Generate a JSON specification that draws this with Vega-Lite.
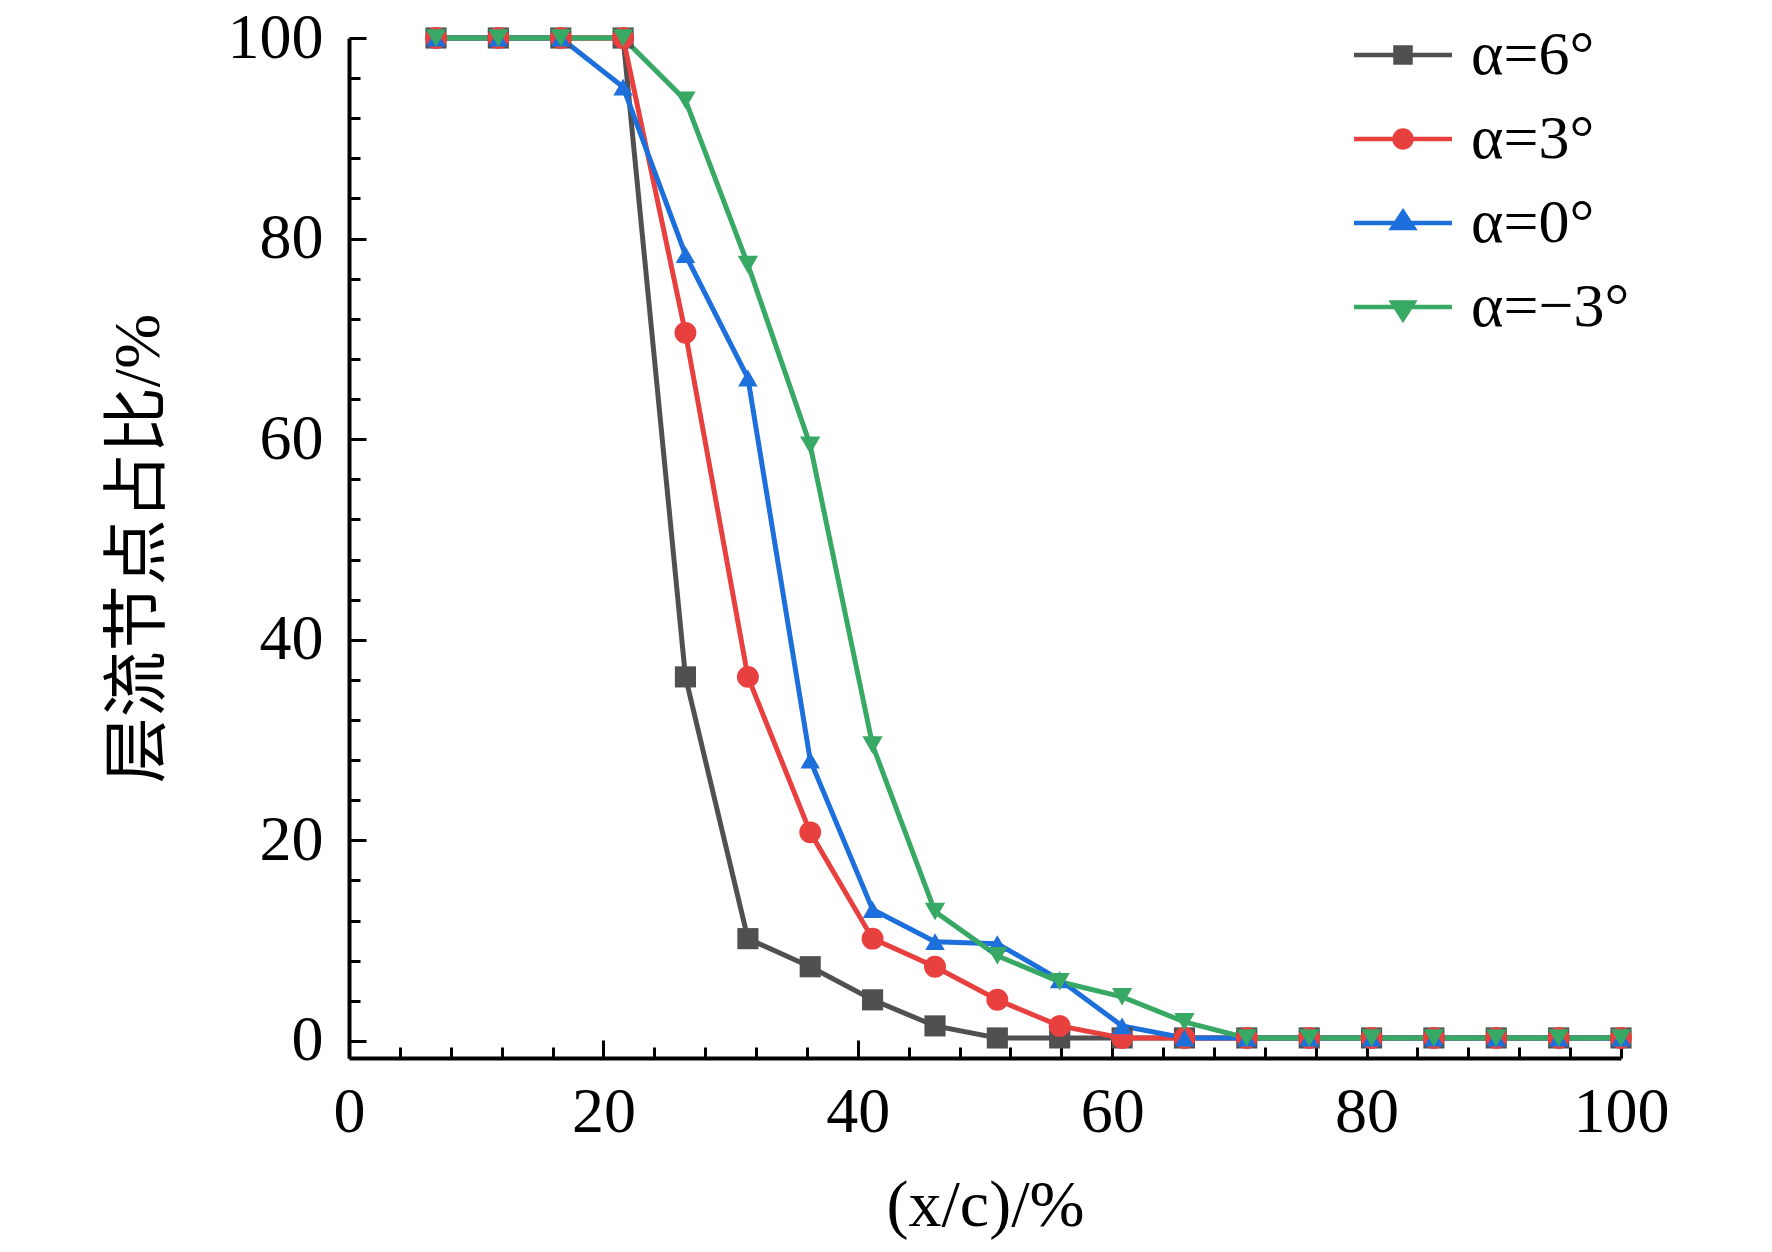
{
  "$schema": "https://vega.github.io/schema/vega-lite/v6.json",
  "width": 1272,
  "height": 1020,
  "autosize": {"type": "none"},
  "padding": {"left": 349, "top": 38, "right": 151, "bottom": 194},
  "background": "white",
  "config": {"view": {"stroke": null}, "font": "Liberation Serif"},
  "data": {
    "values": [
      {"s": "α=6°", "x": 6.84, "y": 100}, {"s": "α=6°", "x": 11.74, "y": 100}, {"s": "α=6°", "x": 16.65, "y": 100}, {"s": "α=6°", "x": 21.55, "y": 100},
      {"s": "α=6°", "x": 26.45, "y": 36.3}, {"s": "α=6°", "x": 31.36, "y": 10.2}, {"s": "α=6°", "x": 36.26, "y": 7.4}, {"s": "α=6°", "x": 41.16, "y": 4.1},
      {"s": "α=6°", "x": 46.07, "y": 1.5}, {"s": "α=6°", "x": 50.97, "y": 0.3}, {"s": "α=6°", "x": 55.87, "y": 0.3}, {"s": "α=6°", "x": 60.78, "y": 0.3},
      {"s": "α=6°", "x": 65.68, "y": 0.3}, {"s": "α=6°", "x": 70.58, "y": 0.3}, {"s": "α=6°", "x": 75.49, "y": 0.3}, {"s": "α=6°", "x": 80.39, "y": 0.3},
      {"s": "α=6°", "x": 85.29, "y": 0.3}, {"s": "α=6°", "x": 90.19, "y": 0.3}, {"s": "α=6°", "x": 95.1, "y": 0.3}, {"s": "α=6°", "x": 100, "y": 0.3},
      {"s": "α=3°", "x": 6.84, "y": 100}, {"s": "α=3°", "x": 11.74, "y": 100}, {"s": "α=3°", "x": 16.65, "y": 100}, {"s": "α=3°", "x": 21.55, "y": 100},
      {"s": "α=3°", "x": 26.45, "y": 70.6}, {"s": "α=3°", "x": 31.36, "y": 36.3}, {"s": "α=3°", "x": 36.26, "y": 20.8}, {"s": "α=3°", "x": 41.16, "y": 10.2},
      {"s": "α=3°", "x": 46.07, "y": 7.4}, {"s": "α=3°", "x": 50.97, "y": 4.1}, {"s": "α=3°", "x": 55.87, "y": 1.5}, {"s": "α=3°", "x": 60.78, "y": 0.3},
      {"s": "α=3°", "x": 65.68, "y": 0.3}, {"s": "α=3°", "x": 70.58, "y": 0.3}, {"s": "α=3°", "x": 75.49, "y": 0.3}, {"s": "α=3°", "x": 80.39, "y": 0.3},
      {"s": "α=3°", "x": 85.29, "y": 0.3}, {"s": "α=3°", "x": 90.19, "y": 0.3}, {"s": "α=3°", "x": 95.1, "y": 0.3}, {"s": "α=3°", "x": 100, "y": 0.3},
      {"s": "α=0°", "x": 6.84, "y": 100}, {"s": "α=0°", "x": 11.74, "y": 100}, {"s": "α=0°", "x": 16.65, "y": 100}, {"s": "α=0°", "x": 21.55, "y": 95.1},
      {"s": "α=0°", "x": 26.45, "y": 78.4}, {"s": "α=0°", "x": 31.36, "y": 66.1}, {"s": "α=0°", "x": 36.26, "y": 28.0}, {"s": "α=0°", "x": 41.16, "y": 13.1},
      {"s": "α=0°", "x": 46.07, "y": 9.9}, {"s": "α=0°", "x": 50.97, "y": 9.7}, {"s": "α=0°", "x": 55.87, "y": 6.1}, {"s": "α=0°", "x": 60.78, "y": 1.5},
      {"s": "α=0°", "x": 65.68, "y": 0.3}, {"s": "α=0°", "x": 70.58, "y": 0.3}, {"s": "α=0°", "x": 75.49, "y": 0.3}, {"s": "α=0°", "x": 80.39, "y": 0.3},
      {"s": "α=0°", "x": 85.29, "y": 0.3}, {"s": "α=0°", "x": 90.19, "y": 0.3}, {"s": "α=0°", "x": 95.1, "y": 0.3}, {"s": "α=0°", "x": 100, "y": 0.3},
      {"s": "α=−3°", "x": 6.84, "y": 100}, {"s": "α=−3°", "x": 11.74, "y": 100}, {"s": "α=−3°", "x": 16.65, "y": 100}, {"s": "α=−3°", "x": 21.55, "y": 100},
      {"s": "α=−3°", "x": 26.45, "y": 93.8}, {"s": "α=−3°", "x": 31.36, "y": 77.4}, {"s": "α=−3°", "x": 36.26, "y": 59.4}, {"s": "α=−3°", "x": 41.16, "y": 29.5},
      {"s": "α=−3°", "x": 46.07, "y": 12.9}, {"s": "α=−3°", "x": 50.97, "y": 8.5}, {"s": "α=−3°", "x": 55.87, "y": 5.9}, {"s": "α=−3°", "x": 60.78, "y": 4.4},
      {"s": "α=−3°", "x": 65.68, "y": 1.9}, {"s": "α=−3°", "x": 70.58, "y": 0.3}, {"s": "α=−3°", "x": 75.49, "y": 0.3}, {"s": "α=−3°", "x": 80.39, "y": 0.3},
      {"s": "α=−3°", "x": 85.29, "y": 0.3}, {"s": "α=−3°", "x": 90.19, "y": 0.3}, {"s": "α=−3°", "x": 95.1, "y": 0.3}, {"s": "α=−3°", "x": 100, "y": 0.3}
    ]
  },
  "encoding": {
    "x": {
      "field": "x",
      "type": "quantitative",
      "title": "(x/c)/%",
      "scale": {"domain": [0, 100], "nice": false, "zero": false},
      "axis": {
        "values": [0, 4, 8, 12, 16, 20, 24, 28, 32, 36, 40, 44, 48, 52, 56, 60, 64, 68, 72, 76, 80, 84, 88, 92, 96, 100],
        "labelExpr": "datum.value % 20 === 0 ? datum.label : ''",
        "tickSize": {"condition": {"test": "datum.value % 20 === 0", "value": -18}, "value": -11},
        "tickWidth": 3,
        "tickColor": "black",
        "domainColor": "black",
        "domainWidth": 4,
        "grid": false,
        "labelFont": "Liberation Serif",
        "labelFontSize": 64,
        "labelColor": "black",
        "labelPadding": 40,
        "labelOverlap": false,
        "labelFlush": false,
        "titleFont": "Liberation Serif",
        "titleFontSize": 66,
        "titleFontWeight": "normal",
        "titleColor": "black",
        "titlePadding": 22
      }
    },
    "y": {
      "field": "y",
      "type": "quantitative",
      "title": "层流节点占比/%",
      "scale": {"domain": [-1.7, 100], "nice": false, "zero": false},
      "axis": {
        "values": [0, 4, 8, 12, 16, 20, 24, 28, 32, 36, 40, 44, 48, 52, 56, 60, 64, 68, 72, 76, 80, 84, 88, 92, 96, 100],
        "labelExpr": "datum.value % 20 === 0 ? datum.label : ''",
        "tickSize": {"condition": {"test": "datum.value % 20 === 0", "value": -17}, "value": -11},
        "tickWidth": 3,
        "tickColor": "black",
        "domainColor": "black",
        "domainWidth": 4,
        "grid": false,
        "labelFont": "Liberation Serif",
        "labelFontSize": 64,
        "labelColor": "black",
        "labelPadding": 43,
        "labelOverlap": false,
        "labelFlush": false,
        "titleFont": "Liberation Serif, Noto Sans CJK SC",
        "titleFontSize": 66,
        "titleFontWeight": "normal",
        "titleColor": "black",
        "titlePadding": 55
      }
    },
    "color": {
      "field": "s",
      "type": "nominal",
      "scale": {
        "domain": ["α=6°", "α=3°", "α=0°", "α=−3°"],
        "range": ["#505050", "#e8403e", "#1d6fdc", "#38a865"]
      },
      "legend": {
        "title": null,
        "orient": "none",
        "legendX": 1023,
        "legendY": -14,
        "padding": 0,
        "symbolSize": 400,
        "symbolStrokeWidth": 4,
        "labelFont": "Liberation Serif",
        "labelFontSize": 62,
        "labelColor": "black",
        "labelOffset": 37,
        "rowPadding": 22,
        "encode": {
          "symbols": {
            "update": {
              "shape": {"signal": "datum.value === 'α=6°' ? 'M-4.9,0H4.9M-0.75,-0.75H0.75V0.75H-0.75Z' : datum.value === 'α=3°' ? 'M-4.9,0H4.9M-0.85,0A0.85,0.85 0 1,0 0.85,0A0.85,0.85 0 1,0 -0.85,0Z' : datum.value === 'α=0°' ? 'M-4.9,0H4.9M0,-1.1L1.05,0.5H-1.05Z' : 'M-4.9,0H4.9M-1.05,-0.45H1.05L0,1.2Z'"},
              "fill": {"scale": "color", "field": "value"},
              "stroke": {"scale": "color", "field": "value"},
              "strokeWidth": {"value": 4.5},
              "opacity": {"value": 1}
            }
          }
        }
      }
    }
  },
  "layer": [
    {
      "mark": {"type": "line", "strokeWidth": 5},
      "encoding": {}
    },
    {
      "mark": {"type": "point", "filled": true, "opacity": 1},
      "encoding": {
        "shape": {
          "field": "s",
          "type": "nominal",
          "scale": {
            "domain": ["α=−3°", "α=0°", "α=3°", "α=6°"],
            "range": ["triangle-down", "triangle-up", "circle", "square"]
          },
          "legend": null
        },
        "size": {
          "field": "s",
          "type": "nominal",
          "scale": {
            "domain": ["α=3°", "α=6°", "α=−3°", "α=0°"],
            "range": [480, 380, 620, 620]
          },
          "legend": null
        }
      }
    }
  ]
}
